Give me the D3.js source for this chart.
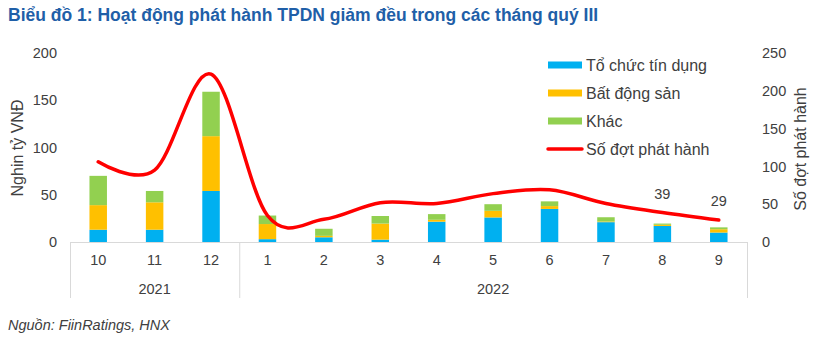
<!DOCTYPE html>
<html><head><meta charset="utf-8">
<script src="https://cdn.jsdelivr.net/npm/d3@7"></script>
<style>body{margin:0;background:#fff}svg{display:block;font-family:"Liberation Sans",Arial,sans-serif}</style>
</head><body><svg id="c" width="820" height="340"></svg>
<script>
const months = ["10","11","12","1","2","3","4","5","6","7","8","9"];
const years = [{label:"2021", from:0, to:3},{label:"2022", from:3, to:12}];
const toChuc = [13, 13, 54, 3, 5, 2.5, 21.5, 26, 35, 21, 17, 10];
const batDongSan = [26, 29, 58, 16, 1.5, 17, 2, 7, 3, 0.7, 1.2, 3.5];
const khac = [31, 12, 47, 9, 7.5, 8, 6, 7, 5, 4.5, 1.3, 2];
const soDot = [106, 95, 222, 35, 30, 52, 51, 64, 69, 51, 39, 29];
const labelled = [10, 11];
const leftTicks = [0, 50, 100, 150, 200];
const rightTicks = [0, 50, 100, 150, 200, 250];
const seriesNames = ["Tổ chức tín dụng", "Bất động sản", "Khác"];
const colors = ["#00B0F0", "#FFC000", "#92D050"];
const lineName = "Số đợt phát hành";

const svg = d3.select("#c");
const L = 70, R = 747, T = 53, B = 242;
const x = d3.scaleBand().domain(d3.range(months.length)).range([L, R]).paddingInner(0.69).paddingOuter(0.345);
const yL = d3.scaleLinear().domain([0, 200]).range([B, T]);
const yR = d3.scaleLinear().domain([0, 250]).range([B, T]);
const txt = "#404040";

svg.append("text").attr("x", 8).attr("y", 21).attr("font-size", 17.5).attr("font-weight", "bold")
  .attr("fill", "#1F5FA8").text("Biểu đồ 1: Hoạt động phát hành TPDN giảm đều trong các tháng quý III");

// stacked bars
const data = months.map((m, i) => ({i, a: toChuc[i], b: batDongSan[i], c: khac[i]}));
const stack = d3.stack().keys(["a", "b", "c"])(data);
stack.forEach((s, k) => {
  svg.append("g").selectAll("rect").data(s).join("rect")
    .attr("x", d => x(d.data.i)).attr("width", x.bandwidth())
    .attr("y", d => yL(d[1])).attr("height", d => yL(d[0]) - yL(d[1]))
    .attr("fill", colors[k]);
});

// axes
const gl = svg.append("g").attr("transform", `translate(${L - 6},0)`)
  .call(d3.axisLeft(yL).tickValues(leftTicks).tickSize(0).tickPadding(7));
gl.select(".domain").remove();
gl.selectAll("text").attr("font-size", 14.5).attr("fill", txt).attr("font-family", "Liberation Sans, Arial");
const gr = svg.append("g").attr("transform", `translate(${R + 9},0)`)
  .call(d3.axisRight(yR).tickValues(rightTicks).tickSize(0).tickPadding(6));
gr.select(".domain").remove();
gr.selectAll("text").attr("font-size", 14.5).attr("fill", txt).attr("font-family", "Liberation Sans, Arial");

// category axis
const axisCol = "#D9D9D9";
svg.append("line").attr("x1", L).attr("x2", R).attr("y1", B + 0.5).attr("y2", B + 0.5).attr("stroke", axisCol);
const gx = svg.append("g").attr("transform", `translate(0,${B})`)
  .call(d3.axisBottom(x).tickFormat(i => months[i]).tickSize(0).tickPadding(13));
gx.select(".domain").remove();
gx.selectAll("text").attr("font-size", 14.5).attr("fill", txt).attr("font-family", "Liberation Sans, Arial");
const bounds = [L, L + x.step() * years[0].to, R];
bounds.forEach(bx => svg.append("line").attr("x1", bx + 0.5).attr("x2", bx + 0.5).attr("y1", B).attr("y2", 298).attr("stroke", axisCol));
years.forEach(y => {
  const cx = (L + x.step() * y.from + L + x.step() * y.to) / 2;
  svg.append("text").attr("x", cx).attr("y", 294).attr("text-anchor", "middle").attr("font-size", 14.5).attr("fill", txt).text(y.label);
});

// line
const line = d3.line().x((d, i) => x(i) + x.bandwidth() / 2).y(d => yR(d)).curve(d3.curveCardinal.tension(0));
svg.append("path").attr("d", line(soDot)).attr("fill", "none").attr("stroke", "#FF0000").attr("stroke-width", 3.5).attr("stroke-linecap", "round");
labelled.forEach(i => {
  svg.append("text").attr("x", x(i) + x.bandwidth() / 2).attr("y", yR(soDot[i]) - 14).attr("text-anchor", "middle")
    .attr("font-size", 14.5).attr("fill", txt).text(soDot[i]);
});

// axis titles
svg.append("text").attr("transform", "translate(23,148) rotate(-90)").attr("text-anchor", "middle").attr("font-size", 16).attr("fill", txt).text("Nghin tỷ VNĐ");
svg.append("text").attr("transform", "translate(806,149) rotate(-90)").attr("text-anchor", "middle").attr("font-size", 16).attr("fill", txt).text(lineName);

// legend
const ly = [65, 93, 121, 149];
seriesNames.forEach((n, k) => {
  svg.append("rect").attr("x", 548).attr("y", ly[k] - 3.5).attr("width", 34).attr("height", 7).attr("fill", colors[k]);
  svg.append("text").attr("x", 586).attr("y", ly[k] + 5.5).attr("font-size", 16).attr("fill", txt).text(n);
});
svg.append("line").attr("x1", 548).attr("x2", 582).attr("y1", ly[3]).attr("y2", ly[3]).attr("stroke", "#FF0000").attr("stroke-width", 3.5).attr("stroke-linecap", "round");
svg.append("text").attr("x", 586).attr("y", ly[3] + 5.5).attr("font-size", 16).attr("fill", txt).text(lineName);

svg.append("text").attr("x", 8).attr("y", 330).attr("font-size", 14.5).attr("font-style", "italic").attr("fill", txt).text("Nguồn: FiinRatings, HNX");
</script></body></html>
